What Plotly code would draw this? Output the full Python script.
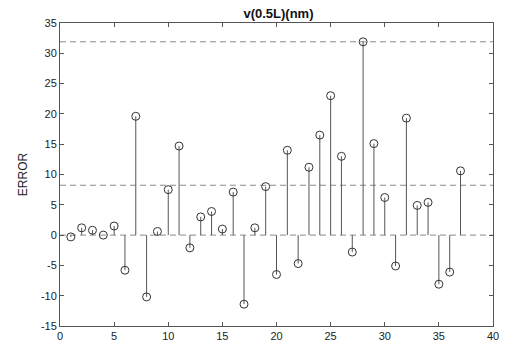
import numpy as np
import plotly.graph_objects as go

# Sample index and error at mid-span deflection v(0.5L), in nm
sample = list(range(1, 38))
error = [-0.3, 1.2, 0.8, 0.0, 1.5, -5.8, 19.6, -10.2, 0.6, 7.5,
         14.7, -2.1, 3.0, 3.9, 1.0, 7.1, -11.4, 1.2, 8.0, -6.5,
         14.0, -4.7, 11.2, 16.5, 23.0, 13.0, -2.8, 31.9, 15.1, 6.2,
         -5.1, 19.3, 4.9, 5.4, -8.1, -6.1, 10.6]
x_ticks = list(range(0, 41, 5))
y_ticks = list(range(-15, 36, 5))

err = np.array(error)
max_abs = float(np.max(np.abs(err)))
mean_abs = float(np.mean(np.abs(err)))

# stems from zero to each value
sx, sy = [], []
for s, e in zip(sample, error):
    sx += [s, s, None]
    sy += [0, e, None]

fig = go.Figure()
for level in (0.0, mean_abs, max_abs):
    fig.add_trace(go.Scatter(x=[0, 40], y=[level, level], mode="lines",
                             line=dict(color="#8a8a8a", width=1, dash="6px,4px"),
                             hoverinfo="skip", showlegend=False))
fig.add_trace(go.Scatter(x=sx, y=sy, mode="lines",
                         line=dict(color="#555555", width=1),
                         hoverinfo="skip", showlegend=False))
fig.add_trace(go.Scatter(x=sample, y=error, mode="markers",
                         marker=dict(symbol="circle-open", size=8,
                                     color="#333333", line=dict(width=1)),
                         showlegend=False))

font_family = "Liberation Sans, Arial"
axis_common = dict(showgrid=False, zeroline=False, showline=True,
                   linecolor="#555555", linewidth=1, mirror="ticks",
                   ticks="inside", ticklen=4, tickcolor="#555555",
                   tickfont=dict(family=font_family, size=11, color="#222222"))

fig.update_layout(
    width=511, height=354,
    margin=dict(l=60, r=14, t=23, b=25),
    paper_bgcolor="white", plot_bgcolor="white",
    title=dict(text="<b>v(0.5L)(nm)</b>", x=0.545, xanchor="center",
               y=0.963, yanchor="middle",
               font=dict(family=font_family, size=13, color="#111111")),
    xaxis=dict(range=[0, 40], tickvals=x_ticks,
               ticktext=[str(t) for t in x_ticks], **axis_common),
    yaxis=dict(range=[-15, 35], tickvals=y_ticks,
               ticktext=[str(t) for t in y_ticks],
               title=dict(text="ERROR", standoff=10,
                          font=dict(family=font_family, size=12, color="#222222")),
               **axis_common),
)

fig.write_html("out.html")
